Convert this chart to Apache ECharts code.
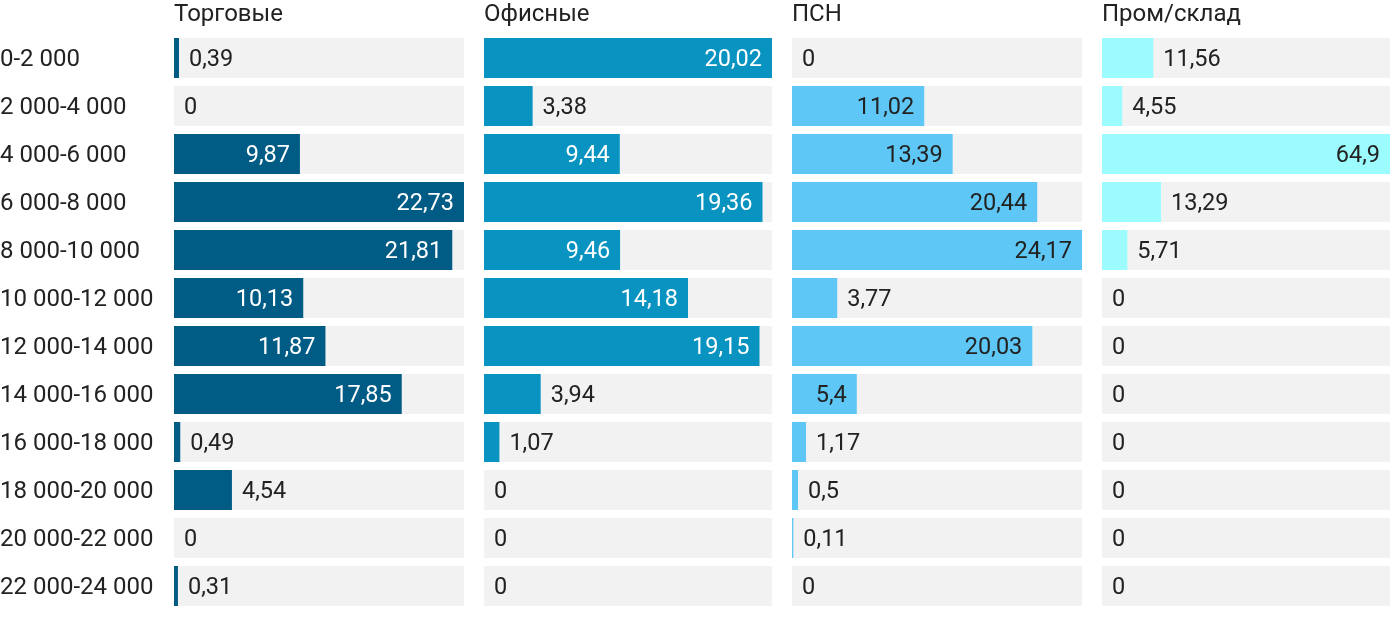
<!DOCTYPE html>
<html><head><meta charset="utf-8">
<script src="https://cdn.jsdelivr.net/npm/echarts@6/dist/echarts.min.js"></script>
<style>html,body{margin:0;padding:0;background:#fff}#c{width:1400px;height:622px}</style>
</head><body><div id="c"></div>
<script>
const categories = ['0-2 000','2 000-4 000','4 000-6 000','6 000-8 000','8 000-10 000','10 000-12 000','12 000-14 000','14 000-16 000','16 000-18 000','18 000-20 000','20 000-22 000','22 000-24 000'];
const panelTitles = ['Торговые','Офисные','ПСН','Пром/склад'];
const trade = [0.39,0,9.87,22.73,21.81,10.13,11.87,17.85,0.49,4.54,0,0.31];
const office = [20.02,3.38,9.44,19.36,9.46,14.18,19.15,3.94,1.07,0,0,0];
const psn = [0,11.02,13.39,20.44,24.17,3.77,20.03,5.4,1.17,0.5,0.11,0];
const warehouse = [11.56,4.55,64.9,13.29,5.71,0,0,0,0,0,0,0];

const seriesValues = [trade, office, psn, warehouse];
const colors = ['#005b85','#0893c0','#5ec7f5','#9cfcfd'];
const insideText = ['#ffffff','#ffffff','#222222','#222222'];
const lefts = [174,484,792,1102];
const widths = [290,288,290,288];
const fmt = v => String(v).replace('.', ',');

const grids = [], xAxes = [], yAxes = [], series = [], titles = [];
seriesValues.forEach((vals, i) => {
  const mx = Math.max(...vals);
  grids.push({left: lefts[i], width: widths[i], top: 34, height: 576, containLabel: false, outerBoundsMode: 'none'});
  xAxes.push({type:'value', gridIndex:i, min:0, max:mx, show:false});
  yAxes.push({type:'category', gridIndex:i, data:categories, inverse:true,
    axisLine:{show:false}, axisTick:{show:false}, splitLine:{show:false},
    axisLabel: i===0 ? {show:true, align:'left', margin:174, fontFamily:'Roboto', fontSize:24, color:'#222',
      formatter: v => '{a|' + v + '}',
      rich:{a:{fontFamily:'Roboto', fontSize:24, color:'#222', padding:[4,0,0,0]}}} : {show:false}});
  series.push({
    type:'bar', xAxisIndex:i, yAxisIndex:i, barWidth:40,
    showBackground:true, backgroundStyle:{color:'#f2f2f2'},
    itemStyle:{color:colors[i]},
    data: vals.map(v => {
      const inside = v / mx > 0.21;
      return {value: v, label: {show:true, position: inside ? 'insideRight' : 'right', distance: 10, offset:[0,2],
        color: inside ? insideText[i] : '#222', fontFamily:'Roboto', fontSize:23.5, formatter: () => fmt(v)}};
    }),
    animation:false
  });
  titles.push({text: panelTitles[i], left: lefts[i], top: 3, padding: 0, textStyle:{fontFamily:'Roboto', fontSize:24, fontWeight:'normal', color:'#222'}});
});

const chart = echarts.init(document.getElementById('c'));
chart.setOption({animation:false, title:titles, grid:grids, xAxis:xAxes, yAxis:yAxes, series:series});
</script></body></html>
